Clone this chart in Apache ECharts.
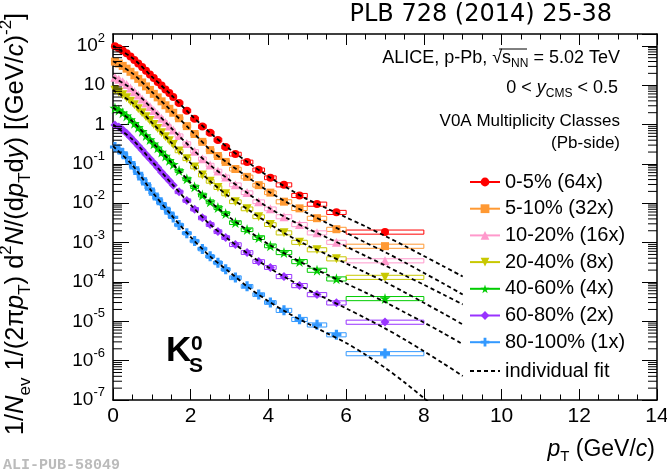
<!DOCTYPE html>
<html>
<head>
<meta charset="utf-8">
<script src="https://cdn.jsdelivr.net/npm/echarts@6/dist/echarts.min.js"></script>
<style>
html, body { margin: 0; padding: 0; background: #fff; }
#main { width: 667px; height: 475px; }
</style>
</head>
<body>
<div id="main"></div>
<script>
// pT bin edges (GeV/c), 32 bins
var ptEdges = [0, 0.1, 0.2, 0.3, 0.4, 0.5, 0.6, 0.7, 0.8, 0.9, 1.0, 1.1, 1.2, 1.3, 1.4, 1.5, 1.6,
    1.8, 2.0, 2.2, 2.4, 2.6, 2.8, 3.0, 3.3, 3.6, 3.9, 4.2, 4.6, 5.0, 5.5, 6.0, 8.0];
// relative systematic uncertainty per bin (box half height)
var sysRel = [0.08, 0.08, 0.08, 0.08, 0.08, 0.08, 0.08, 0.08, 0.08, 0.08, 0.09, 0.09, 0.09, 0.09, 0.09, 0.09,
    0.1, 0.1, 0.1, 0.11, 0.11, 0.11, 0.11, 0.11, 0.11, 0.11, 0.11, 0.12, 0.12, 0.12, 0.12, 0.12];

// spectra, log10 of the plotted (scaled) yield in each bin
var log_0_5 = [1.99, 1.94, 1.88, 1.81, 1.73, 1.64, 1.55, 1.46, 1.37, 1.27, 1.18, 1.08, 0.99, 0.89, 0.80, 0.70,
    0.55, 0.35, 0.15, -0.05, -0.21, -0.39, -0.57, -0.75, -0.95, -1.15, -1.35, -1.53, -1.80, -2.02, -2.23, -2.73];
var log_5_10 = [1.60, 1.55, 1.49, 1.42, 1.34, 1.25, 1.16, 1.07, 0.97, 0.88, 0.78, 0.69, 0.59, 0.49, 0.40, 0.30,
    0.16, -0.04, -0.24, -0.44, -0.65, -0.80, -0.95, -1.13, -1.33, -1.54, -1.73, -1.96, -2.13, -2.38, -2.66, -3.09];
var log_10_20 = [1.20, 1.15, 1.09, 1.02, 0.93, 0.84, 0.75, 0.65, 0.55, 0.46, 0.36, 0.26, 0.16, 0.06, -0.04, -0.14,
    -0.28, -0.48, -0.68, -0.87, -1.03, -1.18, -1.33, -1.53, -1.73, -1.96, -2.14, -2.34, -2.54, -2.75, -2.99, -3.46];
var log_20_40 = [0.87, 0.82, 0.76, 0.68, 0.59, 0.50, 0.40, 0.30, 0.20, 0.10, 0.00, -0.10, -0.21, -0.31, -0.41, -0.51,
    -0.67, -0.87, -1.08, -1.28, -1.44, -1.60, -1.76, -1.96, -2.14, -2.34, -2.54, -2.75, -2.99, -3.18, -3.41, -3.88];
var log_40_60 = [0.42, 0.37, 0.30, 0.22, 0.13, 0.03, -0.07, -0.17, -0.28, -0.38, -0.49, -0.59, -0.70, -0.80, -0.91, -1.01,
    -1.17, -1.38, -1.58, -1.79, -1.96, -2.11, -2.26, -2.49, -2.67, -2.87, -3.08, -3.25, -3.48, -3.70, -3.92, -4.42];
var log_60_80 = [-0.01, -0.06, -0.13, -0.22, -0.32, -0.43, -0.54, -0.65, -0.76, -0.87, -0.98, -1.09, -1.21, -1.32, -1.43, -1.54,
    -1.71, -1.93, -2.15, -2.37, -2.54, -2.72, -2.87, -3.05, -3.25, -3.48, -3.63, -3.86, -4.09, -4.32, -4.53, -5.02];
var log_80_100 = [-0.57, -0.63, -0.72, -0.84, -0.97, -1.10, -1.24, -1.38, -1.51, -1.64, -1.77, -1.89, -2.01, -2.13, -2.25, -2.36,
    -2.55, -2.76, -2.96, -3.16, -3.35, -3.51, -3.68, -3.89, -4.11, -4.32, -4.52, -4.72, -4.95, -5.09, -5.34, -5.82];

// individual fits, log10 values
var fitPt = [0, 0.5, 1, 1.5, 2, 2.5, 3, 3.5, 4, 4.5, 5, 5.5, 6, 6.5, 7, 7.5, 8, 8.5, 9];
var fit_0_5 = [2.00, 1.69, 1.22, 0.75, 0.25, -0.21, -0.62, -0.98, -1.32, -1.62, -1.90, -2.13, -2.36, -2.59, -2.83, -3.08, -3.34, -3.60, -3.86];
var fit_5_10 = [1.61, 1.30, 0.83, 0.35, -0.14, -0.64, -1.01, -1.36, -1.70, -1.99, -2.25, -2.50, -2.75, -3.00, -3.24, -3.50, -3.77, -4.04, -4.32];
var fit_10_20 = [1.21, 0.89, 0.41, -0.09, -0.58, -1.03, -1.41, -1.77, -2.11, -2.39, -2.64, -2.87, -3.10, -3.34, -3.58, -3.83, -4.07, -4.32, -4.57];
var fit_20_40 = [0.88, 0.55, 0.05, -0.46, -0.98, -1.44, -1.84, -2.18, -2.51, -2.81, -3.07, -3.30, -3.53, -3.76, -4.00, -4.26, -4.53, -4.80, -5.08];
var fit_40_60 = [0.43, 0.08, -0.44, -0.96, -1.48, -1.96, -2.36, -2.71, -3.04, -3.32, -3.58, -3.81, -4.04, -4.27, -4.51, -4.77, -5.03, -5.30, -5.58];
var fit_60_80 = [0.00, -0.38, -0.93, -1.49, -2.04, -2.54, -2.94, -3.30, -3.63, -3.92, -4.19, -4.43, -4.67, -4.92, -5.18, -5.46, -5.76, -6.07, -6.39];
var fit_80_100 = [-0.55, -1.03, -1.70, -2.30, -2.86, -3.35, -3.75, -4.15, -4.49, -4.79, -5.05, -5.30, -5.55, -5.85, -6.18, -6.55, -6.95, -7.35, -7.75];

var classNames = ['0-5% (64x)', '5-10% (32x)', '10-20% (16x)', '20-40% (8x)', '40-60% (4x)', '60-80% (2x)', '80-100% (1x)'];
var spectra = [log_0_5, log_5_10, log_10_20, log_20_40, log_40_60, log_60_80, log_80_100];
var fits = [fit_0_5, fit_5_10, fit_10_20, fit_20_40, fit_40_60, fit_60_80, fit_80_100];
var colors = ['#ff0000', '#ff9933', '#ff99cc', '#c8c800', '#00cc00', '#9933ff', '#3399ff'];
var symbols = [
    'circle',
    'rect',
    'triangle',
    'path://M0,0 L10,0 L5,9 Z',
    'path://M50,0 L61,35 L98,35 L68,57 L79,91 L50,70 L21,91 L32,57 L2,35 L39,35 Z',
    'diamond',
    'path://M34,0 H66 V34 H100 V66 H66 V100 H34 V66 H0 V34 H34 Z'
];
var symbolSizes = [8, 8, 9, 9, 11, 9, 10];

var font = 'Liberation Sans, Arial, Helvetica, sans-serif';

var myChart = echarts.init(document.getElementById('main'), null, { renderer: 'canvas' });

function binCenter(i) {
    return (ptEdges[i] + ptEdges[i + 1]) / 2;
}

function boxItem(params, api) {
    var lo = api.value(0), hi = api.value(1), y = api.value(2), s = api.value(3);
    var p1 = api.coord([lo, y * (1 + s)]);
    var p2 = api.coord([hi, y * (1 - s)]);
    return {
        type: 'rect',
        shape: { x: p1[0], y: p1[1], width: p2[0] - p1[0], height: p2[1] - p1[1] },
        style: { fill: 'none', stroke: api.visual('color'), lineWidth: 1 }
    };
}

// log minor ticks (2..9 x 10^n) on both vertical frame sides
var minorVals = [];
for (var e = -7; e <= 2; e++) {
    for (var m = 2; m <= 9; m++) {
        var v = m * Math.pow(10, e);
        if (v < 200) minorVals.push([0, v]);
    }
}
function minorTickItem(params, api) {
    var v = api.value(1);
    var l = api.coord([0, v]), r = api.coord([14, v]);
    return {
        type: 'group',
        children: [
            { type: 'line', shape: { x1: l[0], y1: l[1], x2: l[0] + 9, y2: l[1] }, style: { stroke: '#000', lineWidth: 1 } },
            { type: 'line', shape: { x1: r[0] - 9, y1: r[1], x2: r[0], y2: r[1] }, style: { stroke: '#000', lineWidth: 1 } }
        ]
    };
}

function yLabel(val) {
    var ex = Math.log10(val);
    var n = Math.round(ex);
    if (Math.abs(ex - n) > 1e-6) return '';
    if (n === 0) return '{b|1}';
    if (n === 1) return '{b|10}';
    return '{b|10}{s|' + n + '}';
}

var series = [];
spectra.forEach(function (logs, k) {
    var boxes = logs.map(function (lv, i) {
        return [ptEdges[i], ptEdges[i + 1], Math.pow(10, lv), sysRel[i]];
    });
    series.push({
        name: 'sys' + k,
        type: 'custom',
        renderItem: boxItem,
        data: boxes,
        encode: { x: [0, 1], y: 2 },
        itemStyle: { color: colors[k] },
        clip: true,
        silent: true,
        z: 2
    });
    series.push({
        name: classNames[k],
        type: 'line',
        data: logs.map(function (lv, i) { return [binCenter(i), Math.pow(10, lv)]; }),
        symbol: symbols[k],
        symbolSize: symbolSizes[k],
        itemStyle: { color: colors[k], opacity: 1 },
        lineStyle: { color: colors[k], width: 0 },
        emphasis: { disabled: true },
        z: 3
    });
});
fits.forEach(function (logs) {
    series.push({
        name: 'individual fit',
        type: 'line',
        data: logs.map(function (lv, i) { return [fitPt[i], Math.pow(10, lv)]; }),
        symbol: 'none',
        smooth: 0.3,
        lineStyle: { color: '#000', width: 1.8, type: [4, 3] },
        itemStyle: { color: '#000' },
        emphasis: { disabled: true },
        clip: true,
        z: 4
    });
});
series.push({
    name: 'minorTicks',
    type: 'custom',
    renderItem: minorTickItem,
    data: minorVals,
    encode: { x: 0, y: 1 },
    silent: true,
    clip: false,
    z: 5
});

var option = {
    animation: false,
    backgroundColor: '#fff',
    grid: { left: 113, right: 10, top: 34, bottom: 75, containLabel: false, outerBoundsMode: 'none' },
    xAxis: [{
        type: 'value',
        min: 0, max: 14, interval: 2,
        position: 'bottom',
        axisLine: { show: true, onZero: false, lineStyle: { color: '#000', width: 1.5 } },
        axisTick: { show: true, inside: true, length: 11, lineStyle: { color: '#000', width: 1 } },
        minorTick: { show: true, splitNumber: 4, length: 5.5, lineStyle: { color: '#000', width: 1 } },
        splitLine: { show: false },
        axisLabel: { color: '#000', fontSize: 21, fontFamily: font, margin: 6 },
        name: '{i|p}{sb|T}{t| (GeV/}{i|c}{t|)}',
        nameLocation: 'end',
        nameGap: -2,
        nameMoveOverlap: false,
        nameTextStyle: {
            align: 'right', verticalAlign: 'top', padding: [36, 0, 0, 0],
            rich: {
                t: { fontSize: 23, fontFamily: font, color: '#000', lineHeight: 28 },
                i: { fontSize: 23, fontFamily: font, fontStyle: 'italic', color: '#000', lineHeight: 28 },
                sb: { fontSize: 15, fontFamily: font, verticalAlign: 'bottom', color: '#000' }
            }
        }
    }, {
        type: 'value',
        min: 0, max: 14, interval: 2,
        position: 'top',
        axisLine: { show: true, onZero: false, lineStyle: { color: '#000', width: 1.5 } },
        axisTick: { show: true, inside: true, length: 11, lineStyle: { color: '#000', width: 1 } },
        minorTick: { show: true, splitNumber: 4, length: 5.5, lineStyle: { color: '#000', width: 1 } },
        splitLine: { show: false },
        axisLabel: { show: false }
    }],
    yAxis: [{
        type: 'log',
        logBase: 10,
        min: 1e-7, max: 200, interval: 1,
        position: 'left',
        axisLine: { show: true, onZero: false, lineStyle: { color: '#000', width: 1.5 } },
        axisTick: { show: true, inside: true, length: 16, lineStyle: { color: '#000', width: 1 } },
        splitLine: { show: false },
        axisLabel: {
            margin: 8,
            formatter: yLabel,
            showMaxLabel: false,
            rich: {
                b: { fontSize: 19, fontFamily: font, color: '#000', lineHeight: 28 },
                s: { fontSize: 13, fontFamily: font, color: '#000', verticalAlign: 'top' }
            }
        },
        name: '{t|1/}{i|N}{sb|ev}{t| 1/(2π}{i|p}{sb|T}{t|) d}{sp|2}{i|N}{t|/(d}{i|p}{sb|T}{t|d}{i|y}{t|) [(GeV/}{i|c}{t|)}{sp|-2}{t|]}',
        nameLocation: 'middle',
        nameRotate: 90,
        nameGap: 79,
        nameMoveOverlap: false,
        nameTextStyle: {
            padding: [0, 14, 0, 0],
            rich: {
                t: { fontSize: 25.5, fontFamily: font, color: '#000', lineHeight: 36 },
                i: { fontSize: 25.5, fontFamily: font, fontStyle: 'italic', color: '#000', lineHeight: 36 },
                sb: { fontSize: 17, fontFamily: font, verticalAlign: 'bottom', color: '#000' },
                sp: { fontSize: 17, fontFamily: font, verticalAlign: 'top', color: '#000' }
            }
        }
    }, {
        type: 'log',
        logBase: 10,
        min: 1e-7, max: 200, interval: 1,
        position: 'right',
        axisLine: { show: true, onZero: false, lineStyle: { color: '#000', width: 1.5 } },
        axisTick: { show: true, inside: true, length: 15, lineStyle: { color: '#000', width: 1 } },
        splitLine: { show: false },
        axisLabel: { show: false }
    }],
    legend: [{
        data: classNames,
        orient: 'vertical',
        left: 469, top: 172,
        padding: 0,
        itemWidth: 30, itemHeight: 11, itemGap: 6.7,
        selectedMode: false,
        lineStyle: { width: 2 },
        textStyle: { fontSize: 20, fontFamily: font, color: '#000', lineHeight: 20 }
    }, {
        data: [{ name: 'individual fit', itemStyle: { opacity: 0 } }],
        orient: 'vertical',
        left: 469, top: 361,
        padding: 0,
        itemWidth: 30, itemHeight: 11,
        selectedMode: false,
        lineStyle: { width: 2 },
        textStyle: { fontSize: 20, fontFamily: font, color: '#000', lineHeight: 20 }
    }],
    graphic: [
        {
            type: 'text', x: 612, y: 15,
            style: { text: 'PLB 728 (2014) 25-38', fontSize: 24, fontFamily: 'DejaVu Sans, sans-serif', fill: '#000', align: 'right', verticalAlign: 'middle' }
        },
        {
            type: 'text', x: 620, y: 58,
            style: {
                text: '{t|ALICE, p-Pb, √s}{sb|NN}{t| = 5.02 TeV}',
                align: 'right', verticalAlign: 'middle',
                rich: {
                    t: { fontSize: 18, fontFamily: font, fill: '#000', lineHeight: 24 },
                    sb: { fontSize: 12, fontFamily: font, fill: '#000', verticalAlign: 'bottom' }
                }
            }
        },
        {
            type: 'line',
            shape: { x1: 499, y1: 49, x2: 527, y2: 49 },
            style: { stroke: '#000', lineWidth: 1 }
        },
        {
            type: 'text', x: 618, y: 88,
            style: {
                text: '{t|0 < }{i|y}{sb|CMS}{t| < 0.5}',
                align: 'right', verticalAlign: 'middle',
                rich: {
                    t: { fontSize: 18, fontFamily: font, fill: '#000', lineHeight: 24 },
                    i: { fontSize: 18, fontFamily: font, fontStyle: 'italic', fill: '#000', lineHeight: 24 },
                    sb: { fontSize: 12, fontFamily: font, fill: '#000', verticalAlign: 'bottom' }
                }
            }
        },
        {
            type: 'text', x: 620, y: 121,
            style: { text: 'V0A Multiplicity Classes', fontSize: 17, fontFamily: font, fill: '#000', align: 'right', verticalAlign: 'middle' }
        },
        {
            type: 'text', x: 620, y: 143,
            style: { text: '(Pb-side)', fontSize: 17, fontFamily: font, fill: '#000', align: 'right', verticalAlign: 'middle' }
        },
        {
            type: 'text', x: 166, y: 351,
            style: { text: 'K', fontSize: 35, fontWeight: 'bold', fontFamily: font, fill: '#000', align: 'left', verticalAlign: 'middle' }
        },
        {
            type: 'text', x: 191, y: 344,
            style: { text: '0', fontSize: 21, fontWeight: 'bold', fontFamily: font, fill: '#000', align: 'left', verticalAlign: 'middle' }
        },
        {
            type: 'text', x: 189, y: 366,
            style: { text: 'S', fontSize: 21, fontWeight: 'bold', fontFamily: font, fill: '#000', align: 'left', verticalAlign: 'middle' }
        },
        {
            type: 'text', x: 3, y: 465,
            style: { text: 'ALI-PUB-58049', fontSize: 15, fontWeight: 'bold', fontFamily: 'Liberation Mono, Courier New, monospace', fill: '#bbbbbb', align: 'left', verticalAlign: 'middle' }
        }
    ],
    series: series
};

myChart.setOption(option);
</script>
</body>
</html>
